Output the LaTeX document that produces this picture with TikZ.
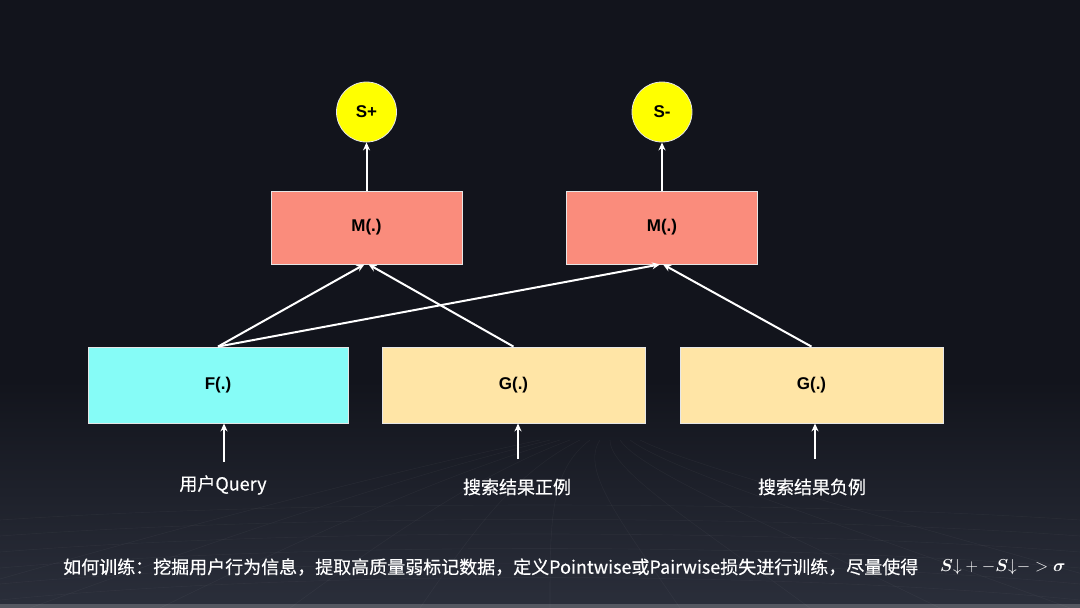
\documentclass[tikz,border=0pt]{standalone}
\usepackage{amsmath,amssymb,bm}
\usepackage{fontspec}
\setmainfont{Liberation Sans}
\newfontfamily\cjk[FakeBold=0.5]{Noto Sans CJK SC}
\usetikzlibrary{arrows.meta}
\definecolor{bgtop}{HTML}{12141C}
\definecolor{bgmid}{HTML}{171A23}
\definecolor{bgbot}{HTML}{2A2E3A}
\definecolor{fcol}{HTML}{86FCF7}
\definecolor{gcol}{HTML}{FFE5A6}
\definecolor{mcol}{HTML}{FA8C7C}
\definecolor{scol}{HTML}{FFFF00}
\definecolor{edgecol}{HTML}{E6E6E6}
\tikzset{
  box/.style={draw=edgecol, line width=0.8pt, inner sep=0pt, font=\fontsize{17}{19}\selectfont\bfseries, text=black},
  fbox/.style={box, fill=fcol, minimum width=260pt, minimum height=76pt},
  gbox/.style={box, fill=gcol, minimum width=263pt, minimum height=76pt},
  mbox/.style={box, fill=mcol, minimum width=191pt, minimum height=73pt},
  score/.style={circle, draw=edgecol, line width=0.8pt, fill=scol, minimum size=60pt, inner sep=0pt, font=\fontsize{17}{19}\selectfont\bfseries, text=black},
  lab/.style={text=white, font=\cjk\fontsize{18}{20}\selectfont, inner sep=0pt},
  arr/.style={draw=white, line width=2pt, -{Stealth[length=8pt,width=7pt]}},
}
\begin{document}
\begin{tikzpicture}[x=1pt,y=-1pt]
% background
\useasboundingbox (0,0) rectangle (1080,608);
\fill[bgtop] (0,0) rectangle (1080,380);
\shade[top color=bgtop, bottom color=bgbot] (0,380) rectangle (1080,604);
\fill[bgbot!80!white] (0,604) rectangle (1080,608);
% faint texture lines
\foreach \i in {0,...,10}{
  \draw[white, opacity=0.04, line width=0.6pt] (-100+\i*130,608) .. controls (200+\i*70,520) and (400+\i*30,470) .. (540+\i*10,440);
}
\foreach \j in {0,...,5}{
  \draw[white, opacity=0.035, line width=0.6pt] (0,520+\j*16) .. controls (300,500+\j*14) and (780,500+\j*14) .. (1080,520+\j*16);
}
% nodes
\node[fbox] (F) at (218,385) {F(.)};
\node[gbox] (G1) at (513.5,385) {G(.)};
\node[gbox] (G2) at (811.5,385) {G(.)};
\node[mbox] (M1) at (366.5,227.5) {M(.)};
\node[mbox] (M2) at (662,227.5) {M(.)};
\node[score] (Sp) at (366.5,112) {S+};
\node[score] (Sm) at (662,112) {S-};
% labels
\node[lab] (q) at (223,485) {用户Query};
\node[lab] (pos) at (517,487) {搜索结果正例};
\node[lab] (neg) at (812,487) {搜索结果负例};
% input arrows
\coordinate (qa) at (224,462);
\coordinate (pa) at (518,459);
\coordinate (na) at (815,459);
\draw[arr] (qa) -- (qa |- F.south);
\draw[arr] (pa) -- (pa |- G1.south);
\draw[arr] (na) -- (na |- G2.south);
% connections
\draw[arr] (F.north) -- ([xshift=-2pt]M1.south);
\draw[arr] (G1.north) -- ([xshift=2pt]M1.south);
\draw[arr] (F.north) -- ([xshift=-2pt]M2.south);
\draw[arr] (G2.north) -- ([xshift=1pt]M2.south);
\draw[arr] (M1.north) -- (Sp.south);
\draw[arr] (M2.north) -- (Sm.south);
% bottom caption
\node[text=white, anchor=west, inner sep=0pt, font=\cjk\fontsize{18}{20}\selectfont] (cap) at (63,567) {如何训练：挖掘用户行为信息，提取高质量弱标记数据，定义Pointwise或Pairwise损失进行训练，尽量使得};
\node[text=white, anchor=west, inner sep=0pt, font=\fontsize{16}{19}\selectfont] (math) at (940,567) {$\bm{S}{\downarrow}+-\bm{S}{\downarrow}->\bm{\sigma}$};
\end{tikzpicture}
\end{document}
